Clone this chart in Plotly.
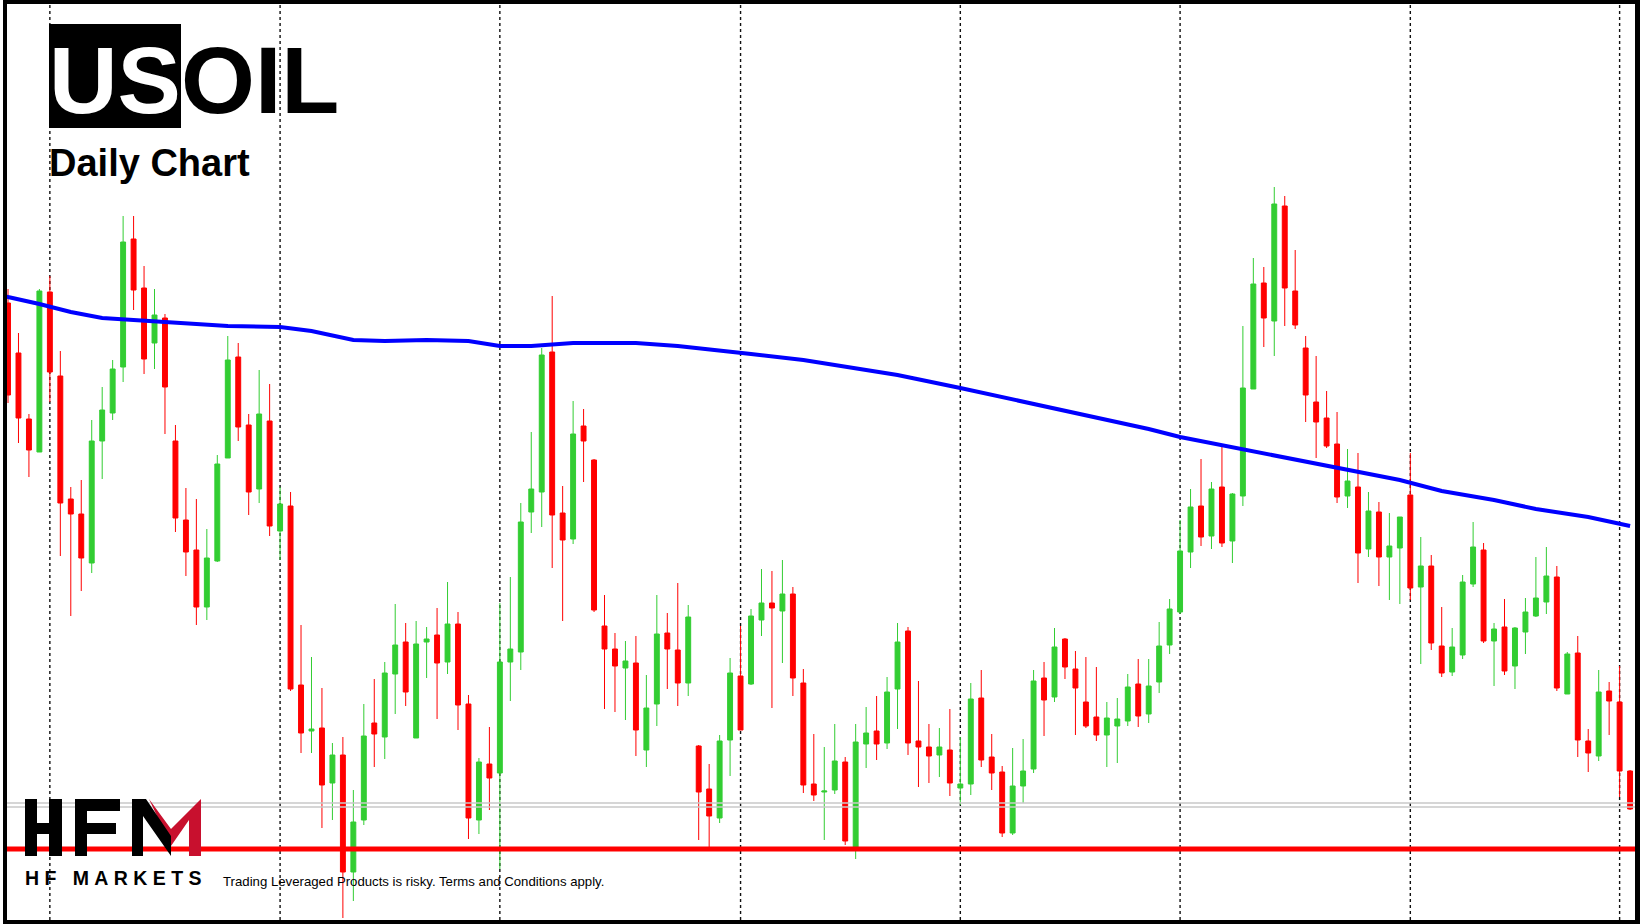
import plotly.graph_objects as go

# USOIL daily candles (oldest first)
opens = [84.85, 82.35, 79.05, 77.40, 85.40, 81.20, 75.05, 74.30, 71.85, 77.95,
         79.35, 81.65, 88.05, 85.60, 82.85, 84.10, 77.95, 74.00, 72.50, 69.65,
         71.95, 77.10, 82.15, 78.75, 75.55, 78.95, 73.45, 74.70, 65.75, 63.45,
         63.60, 60.85, 62.25, 56.40, 59.00, 63.85, 63.15, 66.30, 67.90, 63.10,
         67.90, 68.25, 66.90, 68.80, 64.80, 59.00, 61.80, 61.35, 66.90, 67.40,
         74.40, 75.40, 82.40, 74.35, 73.05, 78.70, 77.00, 68.70, 67.55, 66.60,
         66.85, 62.50, 64.80, 68.35, 67.50, 65.85, 62.70, 60.55, 59.10, 63.00,
         66.20, 65.80, 69.00, 69.85, 69.45, 70.30, 65.85, 60.80, 60.40, 60.50,
         61.90, 57.65, 62.80, 63.45, 62.85, 65.55, 68.45, 62.95, 62.65, 62.25,
         62.50, 60.60, 60.80, 65.10, 62.15, 61.40, 58.35, 60.70, 61.55, 66.10,
         65.15, 68.05, 66.55, 64.90, 64.15, 63.25, 63.70, 63.95, 65.80, 64.30,
         65.90, 67.75, 69.40, 72.40, 74.70, 73.20, 75.65, 72.95, 75.20, 80.55,
         85.85, 83.95, 89.70, 85.45, 82.60, 79.90, 79.10, 77.80, 75.20, 75.65,
         72.55, 74.40, 72.15, 72.60, 75.25, 70.65, 71.70, 67.70, 66.40, 67.25,
         70.80, 72.50, 67.95, 68.65, 66.70, 68.40, 69.20, 69.90, 71.15, 65.30,
         67.35, 62.95, 62.20, 65.45, 64.90, 61.45]
highs = [85.55, 83.35, 79.30, 85.55, 86.20, 82.45, 75.65, 76.00, 79.00, 80.65,
         82.00, 89.20, 89.20, 86.70, 85.55, 84.30, 78.75, 75.60, 75.05, 73.55,
         77.25, 83.20, 82.85, 79.30, 81.50, 80.80, 75.65, 75.40, 68.75, 67.15,
         65.60, 62.85, 63.15, 60.50, 64.80, 66.05, 66.90, 69.80, 68.85, 68.95,
         68.65, 69.60, 70.90, 69.40, 65.25, 62.10, 63.65, 69.85, 71.15, 74.85,
         78.40, 82.60, 85.20, 75.70, 79.95, 79.55, 77.05, 70.25, 68.35, 67.95,
         68.20, 66.25, 70.25, 69.35, 70.85, 69.75, 62.75, 61.80, 63.25, 67.10,
         68.70, 69.55, 71.55, 71.45, 72.00, 70.65, 66.55, 63.30, 62.65, 63.80,
         62.15, 63.80, 64.65, 65.20, 66.15, 68.85, 68.65, 65.95, 63.80, 63.60,
         64.55, 63.15, 65.85, 66.50, 63.30, 61.70, 62.60, 63.05, 66.50, 66.90,
         68.60, 68.10, 67.45, 67.15, 66.65, 64.90, 65.10, 66.30, 67.05, 67.05,
         68.90, 70.05, 74.00, 75.55, 77.05, 75.90, 77.65, 75.35, 83.70, 87.10,
         86.65, 90.65, 90.20, 87.50, 83.20, 82.20, 80.45, 79.40, 77.55, 77.35,
         75.40, 74.90, 74.35, 74.15, 77.35, 73.15, 72.25, 69.65, 68.60, 71.25,
         73.90, 72.85, 68.85, 70.05, 68.65, 70.10, 72.15, 72.65, 71.70, 67.40,
         68.20, 63.55, 66.50, 65.90, 66.70, 61.50]
lows = [79.85, 77.85, 76.15, 77.40, 79.90, 72.20, 69.20, 70.45, 71.35, 76.05,
        79.00, 80.90, 84.50, 81.30, 81.55, 78.30, 73.40, 71.20, 68.75, 69.00,
        71.90, 77.10, 77.95, 74.25, 74.85, 73.20, 72.00, 65.45, 62.35, 62.35,
        58.60, 59.00, 54.10, 54.95, 58.75, 61.65, 62.05, 64.30, 64.70, 63.10,
        66.10, 64.05, 66.30, 63.50, 58.05, 58.30, 59.50, 56.55, 64.95, 66.50,
        73.35, 73.65, 71.60, 68.95, 72.80, 75.90, 69.40, 64.55, 64.40, 64.00,
        62.20, 61.65, 63.70, 65.55, 64.70, 65.20, 58.00, 57.65, 58.85, 61.20,
        63.50, 65.75, 68.20, 64.60, 66.85, 65.20, 60.35, 59.95, 58.00, 60.30,
        57.75, 57.05, 61.60, 62.00, 62.55, 63.55, 62.25, 60.65, 60.85, 61.15,
        60.20, 59.75, 60.25, 61.65, 60.50, 58.15, 58.25, 59.85, 61.35, 63.20,
        64.90, 66.05, 63.25, 63.60, 62.95, 61.65, 61.85, 63.70, 63.65, 63.85,
        65.35, 67.30, 69.30, 71.60, 72.70, 72.55, 72.65, 71.85, 74.70, 80.55,
        82.65, 82.20, 83.70, 83.55, 78.90, 77.10, 77.60, 74.85, 74.60, 70.85,
        72.15, 70.70, 70.00, 69.80, 70.00, 66.80, 67.50, 66.15, 66.20, 67.05,
        70.65, 67.85, 65.70, 66.25, 65.55, 67.30, 69.15, 69.30, 65.45, 65.30,
        62.15, 61.40, 61.95, 63.25, 60.15, 59.50]
closes = [80.25, 79.10, 77.50, 85.45, 81.40, 74.85, 74.30, 72.10, 77.95, 79.50,
          81.55, 87.90, 85.50, 82.05, 84.25, 80.65, 74.10, 72.40, 69.65, 72.10,
          76.80, 82.00, 78.65, 75.40, 79.30, 73.70, 74.80, 65.55, 63.35, 63.55,
          60.75, 62.25, 56.40, 58.90, 63.20, 63.30, 66.35, 67.75, 65.40, 67.80,
          68.05, 66.85, 68.80, 64.75, 59.10, 61.90, 61.10, 66.90, 67.55, 73.90,
          75.55, 82.25, 74.25, 73.00, 78.30, 77.95, 69.50, 67.55, 66.70, 66.95,
          63.50, 64.60, 68.30, 67.55, 65.85, 69.15, 60.40, 59.20, 62.95, 66.35,
          63.50, 69.20, 69.85, 69.60, 70.30, 66.10, 60.75, 60.25, 60.45, 61.95,
          57.95, 62.90, 63.35, 62.80, 65.40, 67.90, 62.85, 62.65, 62.20, 62.65,
          60.85, 60.80, 65.05, 62.00, 61.35, 58.35, 60.70, 61.45, 65.95, 65.00,
          67.65, 66.65, 65.60, 63.70, 63.25, 64.10, 64.05, 65.65, 64.20, 65.70,
          67.70, 69.55, 72.45, 74.65, 73.15, 75.55, 72.85, 75.30, 80.60, 85.80,
          84.10, 89.80, 85.60, 83.75, 80.25, 78.90, 77.70, 75.15, 75.95, 72.35,
          74.45, 72.15, 72.70, 74.15, 70.60, 71.70, 67.85, 66.35, 67.65, 70.90,
          72.65, 67.95, 68.55, 66.45, 68.60, 69.40, 70.10, 71.20, 65.60, 67.30,
          63.00, 62.35, 65.40, 64.95, 61.45, 59.55]
bars = list(range(len(opens)))

# moving average, sampled at bar numbers (first point sits just off the left edge)
ma_bars = [-1, 0, 3, 6, 9, 12, 15, 18, 21, 26, 29, 33, 36, 40, 44, 47, 50, 54, 60, 64,
           68, 71, 76, 80, 85, 91, 95, 100, 105, 109, 112, 115, 118, 124, 127, 133,
           137, 142, 146, 151, 155]
ma_vals = [85.30, 85.15, 84.80, 84.40, 84.10, 84.00, 83.90, 83.80, 83.70, 83.65,
           83.45, 83.00, 82.95, 83.00, 82.95, 82.70, 82.70, 82.85, 82.85, 82.70,
           82.50, 82.30, 82.00, 81.65, 81.25, 80.60, 80.15, 79.60, 79.05, 78.55,
           78.15, 77.85, 77.50, 76.95, 76.60, 76.00, 75.45, 75.00, 74.55, 74.15,
           73.70]

support_level = 57.55
grey_levels = [59.85, 59.65]
month_starts = [4, 26, 47, 70, 91, 112, 134, 154]

W, H = 1640, 924
ML, MR, MT, MB = 7, 5, 4, 4
PW, PH = W - ML - MR, H - MT - MB


def px(x):
    return (x - ML) / PW


def py(y):
    return 1 - (y - MT) / PH


def poly(points):
    return "M " + " L ".join(f"{px(a):.5f},{py(b):.5f}" for a, b in points) + " Z"


fig = go.Figure()
fig.add_trace(go.Candlestick(
    x=bars, open=opens, high=highs, low=lows, close=closes,
    increasing=dict(line=dict(color="#32CD32", width=1), fillcolor="#32CD32"),
    decreasing=dict(line=dict(color="#FF0000", width=1), fillcolor="#FF0000"),
    whiskerwidth=0, hoverinfo="skip"))
fig.add_trace(go.Scatter(x=ma_bars, y=ma_vals, mode="lines",
                         line=dict(color="#0000FF", width=4), hoverinfo="skip"))

shapes = []
for m in month_starts:
    shapes.append(dict(type="line", xref="x", yref="paper", x0=m, x1=m, y0=0, y1=1,
                       layer="below", line=dict(color="#111111", width=1.4, dash="3px,3px")))
for g in grey_levels:
    shapes.append(dict(type="line", xref="paper", yref="y", x0=0, x1=1, y0=g, y1=g,
                       line=dict(color="#C8C8C8", width=1.5)))
shapes.append(dict(type="line", xref="paper", yref="y", x0=0, x1=1,
                   y0=support_level, y1=support_level, line=dict(color="#FF0000", width=5)))

# title box behind "US"
shapes.append(dict(type="rect", xref="paper", yref="paper", x0=px(49), x1=px(181),
                   y0=py(128), y1=py(24), fillcolor="black", line=dict(width=0)))

# HFM logo
logo_black = [
    [(25, 799), (37, 799), (37, 856), (25, 856)],
    [(49, 799), (62, 799), (62, 856), (49, 856)],
    [(25, 823), (62, 823), (62, 834), (25, 834)],
    [(75, 799), (87, 799), (87, 856), (75, 856)],
    [(75, 799), (120, 799), (120, 811), (75, 811)],
    [(75, 823), (116, 823), (116, 834), (75, 834)],
]
m_red = [(149, 799), (171, 829), (201, 799), (201, 856), (189, 856), (189, 820), (171, 846)]
m_black = [(132, 799), (146, 799), (171, 836), (171, 856), (143, 816), (143, 856), (132, 856)]
for p in logo_black:
    shapes.append(dict(type="path", xref="paper", yref="paper", path=poly(p),
                       fillcolor="black", line=dict(width=0)))
shapes.append(dict(type="path", xref="paper", yref="paper", path=poly(m_red),
                   fillcolor="#C8102E", line=dict(width=0)))
shapes.append(dict(type="path", xref="paper", yref="paper", path=poly(m_black),
                   fillcolor="black", line=dict(width=0)))
# thin white strip at far left of the frame
shapes.append(dict(type="rect", xref="paper", yref="paper", x0=px(0), x1=px(3),
                   y0=py(924), y1=py(0), fillcolor="white", line=dict(width=0)))

nb = "\u00a0"
annotations = [
    dict(x=px(47), y=py(25), xref="paper", yref="paper", xanchor="left", yanchor="top",
         text="<span style='color:white'>US</span>OIL", showarrow=False,
         font=dict(family="Arial, Liberation Sans", size=95, color="black", weight="bold")),
    dict(x=px(47), y=py(140), xref="paper", yref="paper", xanchor="left", yanchor="top",
         text="Daily Chart", showarrow=False,
         font=dict(family="Arial, Liberation Sans", size=38, color="black", weight="bold")),
    dict(x=px(23), y=py(878), xref="paper", yref="paper", xanchor="left", yanchor="middle",
         text=nb.join(["H", "F", "", "", "M", "A", "R", "K", "E", "T", "S"]), showarrow=False,
         font=dict(family="Arial, Liberation Sans", size=19.5, color="black", weight="bold")),
    dict(x=px(221), y=py(881), xref="paper", yref="paper", xanchor="left", yanchor="middle",
         text="Trading Leveraged Products is risky. Terms and Conditions apply.", showarrow=False,
         font=dict(family="Arial, Liberation Sans", size=13.2, color="black")),
]

fig.update_layout(
    width=W, height=H,
    margin=dict(l=ML, r=MR, t=MT, b=MB, pad=0),
    paper_bgcolor="black", plot_bgcolor="white",
    showlegend=False,
    shapes=shapes, annotations=annotations,
    xaxis=dict(range=[-0.096, 155.47], visible=False, showgrid=False, zeroline=False,
               rangeslider=dict(visible=False), fixedrange=True),
    yaxis=dict(range=[54.0, 99.8], visible=False, showgrid=False, zeroline=False, fixedrange=True),
    boxgap=0.33,
)

fig.write_html("out.html", config={"displayModeBar": False},
               post_script="document.body.style.margin='0';")
